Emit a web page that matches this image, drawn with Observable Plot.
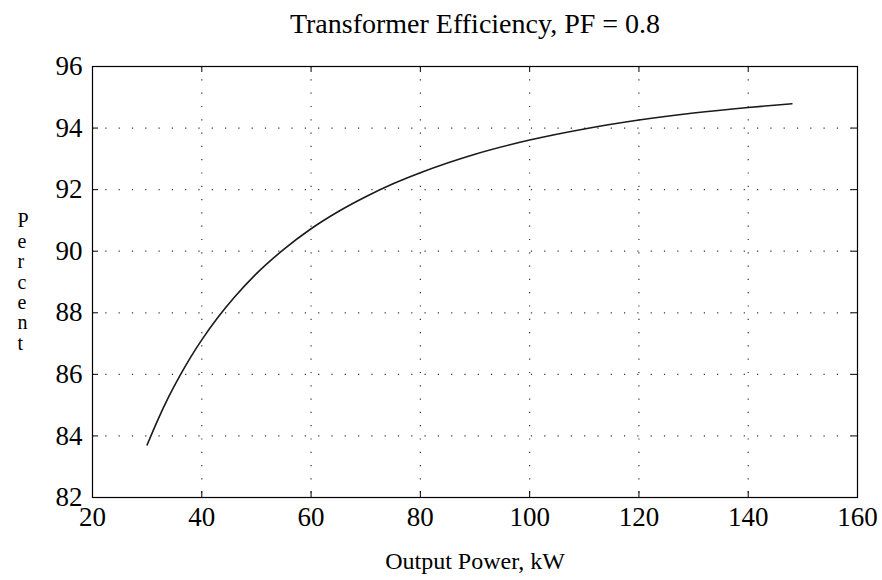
<!DOCTYPE html>
<html>
<head>
<meta charset="utf-8">
<script src="https://cdn.jsdelivr.net/npm/d3@7"></script>
<script src="https://cdn.jsdelivr.net/npm/@observablehq/plot@0.6"></script>
<style>
  html, body { margin: 0; padding: 0; background: #fff; }
  svg { display: block; }
</style>
</head>
<body>
<div id="chart"></div>
<script>
// Output power (kW) and efficiency (%)
const power = [30, 32, 34, 36, 38, 40, 43, 46, 50, 55, 60, 65, 70, 75, 80, 90, 100, 110, 120, 130, 140, 148];
const efficiency = [83.71, 84.54, 85.29, 85.96, 86.57, 87.12, 87.86, 88.51, 89.27, 90.06, 90.73, 91.29, 91.77, 92.19, 92.55, 93.15, 93.61, 93.97, 94.26, 94.49, 94.67, 94.79];
const xTicks = [20, 40, 60, 80, 100, 120, 140, 160];
const yTicks = [82, 84, 86, 88, 90, 92, 94, 96];
const titleText = "Transformer Efficiency, PF = 0.8";
const xLabel = "Output Power, kW";
const yLabel = "Percent";

const data = power.map((p, i) => ({power: p, eff: efficiency[i]}));

const W = 882, H = 580;
const mL = 92, mR = 25, mT = 66, mB = 83;
const fw = W - mL - mR, fh = H - mT - mB;
const font = "'Liberation Serif', 'Times New Roman', serif";

const chart = Plot.plot({
  width: W,
  height: H,
  marginLeft: mL,
  marginRight: mR,
  marginTop: mT,
  marginBottom: mB,
  style: {fontFamily: font, background: "#fff", color: "#000"},
  x: {domain: [20, 160], ticks: xTicks},
  y: {domain: [82, 96], ticks: yTicks},
  marks: [
    // dotted grid
    Plot.ruleX(xTicks.slice(1, -1), {stroke: "#333", strokeWidth: 1.2, strokeDasharray: "1.2,12.1"}),
    Plot.ruleY(yTicks.slice(1, -1), {stroke: "#333", strokeWidth: 1.2, strokeDasharray: "1.2,12.1"}),
    // inward ticks
    Plot.ruleX(xTicks, {stroke: "#000", insetTop: fh - 6}),
    Plot.ruleX(xTicks, {stroke: "#000", insetBottom: fh - 6}),
    Plot.ruleY(yTicks, {stroke: "#000", insetRight: fw - 6}),
    Plot.ruleY(yTicks, {stroke: "#000", insetLeft: fw - 6}),
    Plot.frame({stroke: "#000", strokeWidth: 1.2}),
    Plot.axisX(xTicks, {anchor: "bottom", tickSize: 0, tickPadding: 9, fontSize: 27, tickFormat: d => String(d), label: null}),
    Plot.axisY(yTicks, {anchor: "left", tickSize: 0, tickPadding: 10, fontSize: 27, tickFormat: d => String(d), label: null}),
    Plot.line(data, {x: "power", y: "eff", stroke: "#1a1a1a", strokeWidth: 1.6, curve: "monotone-x"}),
    Plot.text([titleText], {frameAnchor: "top", text: d => d, dy: -34, lineAnchor: "bottom", fontSize: 28, fill: "#000"}),
    Plot.text([xLabel], {frameAnchor: "bottom", text: d => d, dy: 71, lineAnchor: "bottom", fontSize: 24, fill: "#000"}),
    Plot.text([yLabel], {frameAnchor: "left", text: d => d.split("").join("\n"), dx: -75, lineAnchor: "middle", fontSize: 20, lineHeight: 1.02, fill: "#000"})
  ]
});
document.getElementById("chart").appendChild(chart);
</script>
</body>
</html>
